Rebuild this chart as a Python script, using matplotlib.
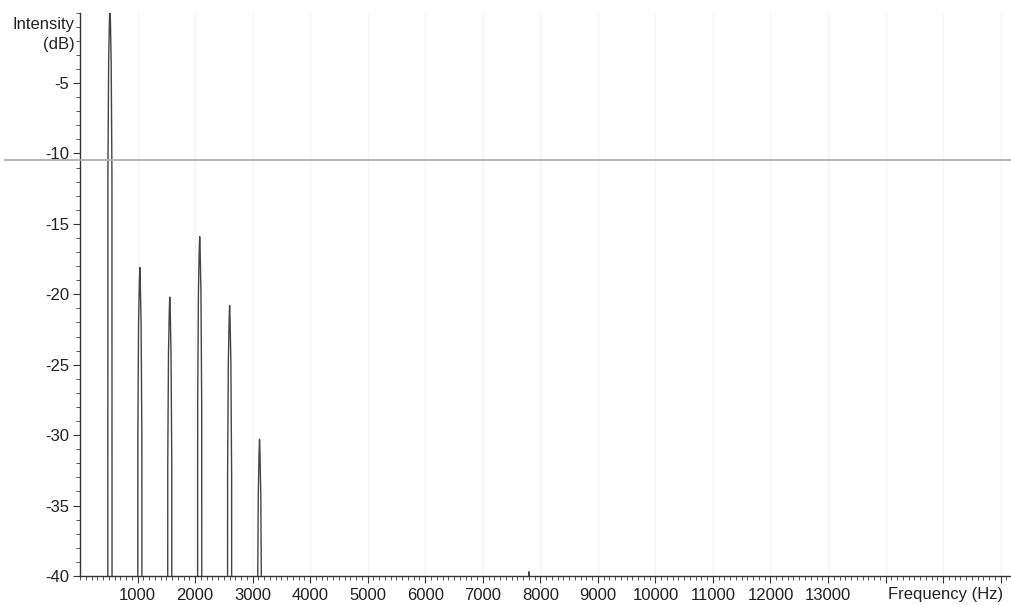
import matplotlib
matplotlib.use("Agg")
from matplotlib import pyplot as plt
from matplotlib.ticker import MultipleLocator, FixedLocator

# harmonic peaks (Hz, dB)
peak_freqs = [520, 1040, 1560, 2080, 2600, 3120, 7800]
peak_levels = [0.5, -18.1, -20.2, -15.9, -20.8, -30.3, -39.7]

# shape of one peak: offset from centre (Hz) and drop below the peak (dB)
shape_offsets = [-38, -35, -22, -8, 0, 8, 22, 35, 38]
shape_drops = [60, 12, 4, 1.0, 0, 1.0, 4, 12, 60]

ref_level = -10.5

xtick_vals = [1000, 2000, 3000, 4000, 5000, 6000, 7000, 8000, 9000, 10000, 11000, 12000, 13000]
ytick_vals = [-40, -35, -30, -25, -20, -15, -10, -5]

plt.rcParams['font.family'] = ['Liberation Sans', 'DejaVu Sans']
W, H = 1011, 605
fig = plt.figure(figsize=(W / 100, H / 100), dpi=100)
ax = fig.add_axes([80 / W, (H - 576) / H, 1 - 80 / W, (576 - 12.6) / H])

for f0, lev in zip(peak_freqs, peak_levels):
    xs = [f0 + o for o in shape_offsets]
    ys = [lev - d for d in shape_drops]
    if lev < -39:
        # tiny bump near the floor
        xs = [f0 - 10, f0, f0 + 10]
        ys = [-41, lev, -41]
    ax.plot(xs, ys, color='#444444', lw=1.0)

ax.axhline(ref_level, xmin=-75 / (W - 80), xmax=1, clip_on=False, color='#b0b0b0', lw=1.3, zorder=3)

ax.set_xlim(0, 16180)
ax.set_ylim(-40, 0)

ax.xaxis.set_major_locator(FixedLocator(xtick_vals + [14000, 15000, 16000]))
ax.xaxis.set_minor_locator(MultipleLocator(100))
ax.yaxis.set_major_locator(FixedLocator(ytick_vals))
ax.yaxis.set_minor_locator(MultipleLocator(1))
ax.set_xticklabels([str(v) for v in xtick_vals] + ['', '', ''])
ax.set_yticklabels([str(v) for v in ytick_vals])

ax.grid(axis='x', which='major', color='#f5f5f5', lw=1.0)
ax.set_axisbelow(True)

for s in ['top', 'right']:
    ax.spines[s].set_visible(False)
for s in ['left', 'bottom']:
    ax.spines[s].set_color('#333333')
    ax.spines[s].set_linewidth(1.0)

ax.tick_params(axis='both', which='major', length=5, width=0.8, color='#333333',
               labelsize=12, labelcolor='#222222')
ax.tick_params(axis='both', which='minor', length=3, width=0.7, color='#555555')
ax.tick_params(axis='x', which='major', pad=4)
ax.tick_params(axis='y', which='major', pad=3)

fig.text(75 / W, 1 - 24 / H, 'Intensity', ha='right', va='center', fontsize=12, color='#222222')
fig.text(75 / W, 1 - 45 / H, '(dB)', ha='right', va='center', fontsize=12, color='#222222')
fig.text(946 / W, 1 - 594 / H, 'Frequency (Hz)', ha='center', va='center', fontsize=12, color='#222222')

fig.savefig('out.png', dpi=100)
